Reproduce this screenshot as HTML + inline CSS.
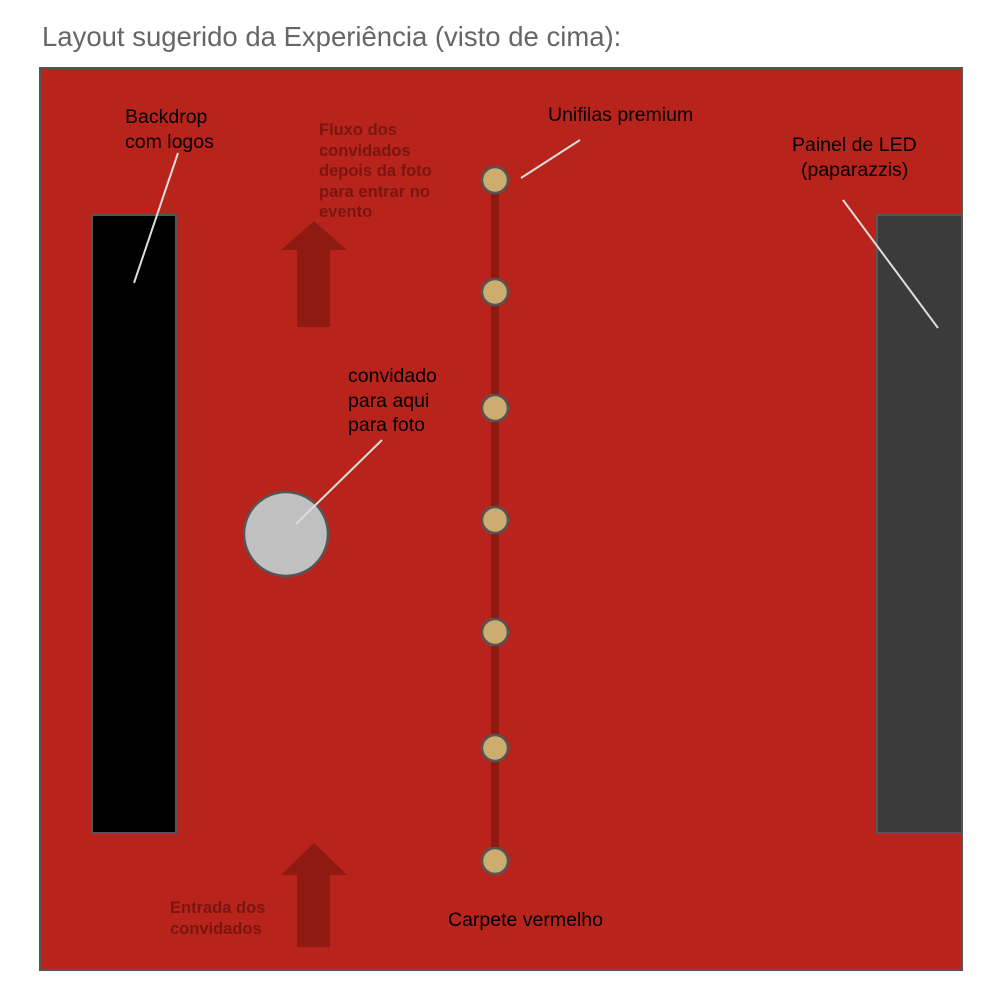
<!DOCTYPE html>
<html><head><style>
body{margin:0;background:#fff;width:1000px;height:1000px;overflow:hidden}
</style></head><body>
<svg width="1000" height="1000" xmlns="http://www.w3.org/2000/svg" font-family="Liberation Sans, sans-serif">
<text x="42" y="46" font-size="27.5" fill="#666">Layout sugerido da Experiência (visto de cima):</text>
<rect x="40" y="68" width="922" height="902" fill="#B8241B" stroke="#555" stroke-width="2"/>
<rect x="92" y="215" width="84" height="618" fill="#000" stroke="#555" stroke-width="2"/>
<rect x="877" y="215" width="85" height="618" fill="#3b3b3b" stroke="#555" stroke-width="2"/>
<line x1="495" y1="180" x2="495" y2="861" stroke="#8e1a12" stroke-width="8"/>
<g fill="#CDAC70" stroke="#555" stroke-width="2.5">
<circle cx="495" cy="180" r="13"/><circle cx="495" cy="292" r="13"/><circle cx="495" cy="408" r="13"/>
<circle cx="495" cy="520" r="13"/><circle cx="495" cy="632" r="13"/><circle cx="495" cy="748" r="13"/>
<circle cx="495" cy="861" r="13"/></g>
<polygon points="314,221 347,250 330,250 330,327 297,327 297,250 281,250" fill="#8e1a12"/>
<polygon points="314,843 347,875 330,875 330,947 297,947 297,875 281,875" fill="#8e1a12"/>
<circle cx="286" cy="534" r="42" fill="#c0c0c0" stroke="#555" stroke-width="2.5"/>
<g stroke="#ddd" stroke-width="2">
<line x1="178" y1="153" x2="134" y2="283"/>
<line x1="580" y1="140" x2="521" y2="178"/>
<line x1="843" y1="200" x2="938" y2="328"/>
<line x1="382" y1="440" x2="296" y2="524"/>
</g>
<g font-size="19.5" fill="#000">
<text x="125" y="123">Backdrop</text><text x="125" y="148">com logos</text>
<text x="548" y="121">Unifilas premium</text>
<text x="792" y="151">Painel de LED</text><text x="801" y="176">(paparazzis)</text>
<text x="348" y="382">convidado</text><text x="348" y="407">para aqui</text><text x="348" y="431">para foto</text>
<text x="448" y="926">Carpete vermelho</text>
</g>
<g font-size="16.5" font-weight="bold" fill="#7a1510">
<text x="319" y="135">Fluxo dos</text><text x="319" y="156">convidados</text>
<text x="319" y="176">depois da foto</text><text x="319" y="197">para entrar no</text>
<text x="319" y="217">evento</text>
<text x="170" y="913">Entrada dos</text><text x="170" y="934">convidados</text>
</g>
</svg>
</body></html>
